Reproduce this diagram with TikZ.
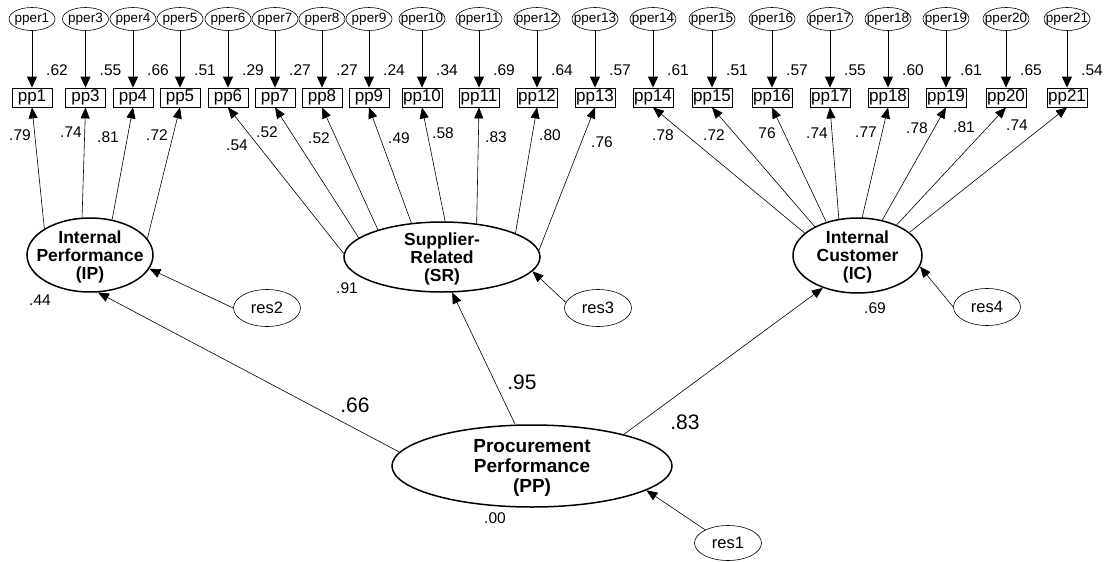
\documentclass[tikz,border=0pt]{standalone}
\usepackage{fontspec}
\setmainfont{Liberation Sans}
\usetikzlibrary{arrows.meta,shapes.geometric}
\begin{document}
\begin{tikzpicture}[x=1pt,y=-1pt,
  obs/.style={draw, line width=0.8pt, minimum width=40pt, minimum height=19pt, inner sep=0pt, font=\fontsize{17}{18}\selectfont},
  err/.style={draw, ellipse, line width=0.6pt, minimum width=46pt, minimum height=23pt, inner sep=0pt},
  errlab/.style={font=\fontsize{13.5}{15}\selectfont, inner sep=0pt},
  res/.style={draw, ellipse, line width=0.6pt, minimum width=67pt, minimum height=37pt, inner sep=0pt},
  reslab/.style={font=\fontsize{16.5}{18}\selectfont, inner sep=0pt},
  lat/.style={draw, ellipse, line width=1.5pt, inner sep=0pt},
  lattext/.style={align=center, font=\bfseries\fontsize{17.5}{18}\selectfont, inner sep=0pt},
  arr/.style={-{Triangle[length=11pt,width=9pt]}, line width=0.6pt},
  earr/.style={-{Triangle[length=11pt,width=10pt]}, line width=0.9pt},
  num/.style={font=\fontsize{15.5}{17}\selectfont, inner sep=0pt},
  big/.style={font=\fontsize{21}{23}\selectfont, inner sep=0pt}
]
\useasboundingbox (0,0) rectangle (1109,562);

% observed indicators with error terms
\foreach \n/\x/\r in {1/32/.62, 3/85.5/.55, 4/133/.66, 5/180/.51, 6/228/.29, 7/275/.27, 8/322/.27, 9/369/.24, 10/422/.34, 11/479/.69, 12/537/.64, 13/595/.57, 14/653/.61, 15/712/.51, 16/772/.57, 17/830/.55, 18/888/.60, 19/946/.61, 20/1006/.65, 21/1067/.54}{
  \node[obs] (pp\n) at (\x,97.5) {pp\n};
  \node[err, label={[errlab]center:pper\n}] (pper\n) at (\x,19) {};
  \draw[earr] (pper\n) -- (pp\n);
  \node[num] (r\n) at (\x+25,70) {\r};
}

% latent variables
\node[lat, minimum width=126pt, minimum height=74pt] (IP) at (90,255) {};
\node[lattext] (IPt) at (90,257) {Internal\\Performance\\(IP)};
\node[lat, minimum width=196pt, minimum height=70pt] (SR) at (442,257) {};
\node[lattext] (SRt) at (442,259) {Supplier-\\Related\\(SR)};
\node[lat, minimum width=129pt, minimum height=75pt] (IC) at (857.5,255.5) {};
\node[lattext] (ICt) at (857.5,257) {Internal\\Customer\\(IC)};
\node[lat, minimum width=280pt, minimum height=82pt] (PP) at (532,466) {};
\node[lattext, font=\bfseries\fontsize{19}{20}\selectfont] (PPt) at (532,468) {Procurement\\Performance\\(PP)};

% residuals
\node[res, label={[reslab]center:res2}] (res2) at (267,308) {};
\node[res, label={[reslab]center:res3}] (res3) at (598,308) {};
\node[res, label={[reslab]center:res4}] (res4) at (987,307) {};
\node[res, minimum height=35pt, label={[reslab]center:res1}] (res1) at (728,543) {};

% loadings
\foreach \lv/\a/\n/\v/\lx/\ly in {IP/150/1/.79/20/135, IP/102/3/.74/71/132, IP/58/4/.81/108/137, IP/16/5/.72/157/135,
  SR/178/6/.54/237/145, SR/167/7/.52/267/132, SR/157/8/.52/319/138, SR/132/9/.49/399/138, SR/85/10/.58/443/133, SR/44/11/.83/496/137, SR/18/12/.80/550/135, SR/4/13/.76/602/142,
  IC/157/14/.78/663/135, IC/146/15/.72/714/135, IC/133/16/76/767/133, IC/117/17/.74/817/133, IC/83/18/.77/866/132, IC/55/19/.78/917/128, IC/38/20/.81/964/127, IC/24/21/.74/1017/125}{
  \draw[arr] (\lv.\a) -- (pp\n.south);
  \node[num] (l\n) at (\lx,\ly) {\v};
}

% structural paths
\draw[arr] (PP.174.5) -- (IP.282);
\draw[arr] (PP.112) -- (SR.-74);
\draw[arr] (PP.19.5) -- (IC.223);
\draw[arr] (res2.west) -- (IP.-13.6);
\draw[arr] (res3.170) -- (SR.-9);
\draw[arr] (res4.west) -- (IC.-10);
\draw[arr] (res1.150) -- (PP.-12);

% squared multiple correlations of latents
\node[num] (sIP) at (40,300) {.44};
\node[num] (sSR) at (347,288) {.91};
\node[num] (sIC) at (875,308) {.69};
\node[num] (sPP) at (495,518) {.00};

% structural coefficients
\node[big] (bIP) at (355,405) {.66};
\node[big] (bSR) at (522,382) {.95};
\node[big] (bIC) at (685,422) {.83};
\end{tikzpicture}
\end{document}
